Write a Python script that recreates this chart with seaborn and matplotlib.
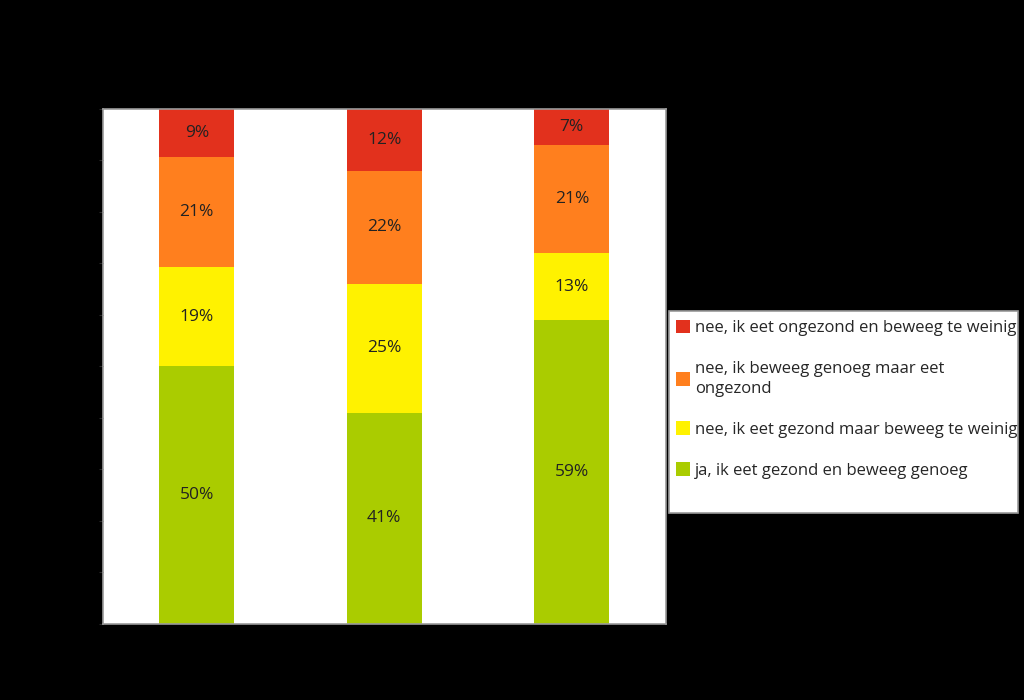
import pandas as pd
import matplotlib.pyplot as plt
import seaborn as sns
from matplotlib.patches import Patch, Rectangle

# gegevens (aandelen per groep, in %)
groepen = ["groep 1", "groep 2", "groep 3"]
antwoorden = [
    "nee, ik eet ongezond en beweeg te weinig",
    "nee, ik beweeg genoeg maar eet\nongezond",
    "nee, ik eet gezond maar beweeg te weinig",
    "ja, ik eet gezond en beweeg genoeg",
]
ongezond_weinig = [9.4, 12, 7]
beweeg_ongezond = [21.3, 22, 21]
gezond_weinig = [19.3, 25, 13]
gezond_genoeg = [50, 41, 59]
kleuren = ["#E2311D", "#FF7F1E", "#FFF200", "#AACC00"]

rows = []
for naam, waarden in zip(antwoorden, [ongezond_weinig, beweeg_ongezond, gezond_weinig, gezond_genoeg]):
    for g, v in zip(groepen, waarden):
        rows.append({"groep": g, "antwoord": naam, "pct": v})
df = pd.DataFrame(rows)

sns.set_style("white")
plt.rcParams['font.family'] = ['Open Sans', 'DejaVu Sans']

fig = plt.figure(figsize=(10.24, 7), dpi=100, facecolor="black")
ax = fig.add_axes([0.1006, 0.1086, 0.5494, 0.7357])
ax.set_facecolor("white")

sns.histplot(data=df, x="groep", hue="antwoord", weights="pct", hue_order=antwoorden,
             multiple="stack", discrete=True, shrink=0.4, palette=kleuren,
             alpha=1, linewidth=0, legend=False, ax=ax)

for cont in ax.containers:
    ax.bar_label(cont, labels=[f"{v:.0f}%" for v in cont.datavalues],
                 label_type="center", fontsize=12.5, color="#222222")

ax.set_xlim(-0.5, 2.5)
ax.set_ylim(0, 100)
ax.set_xlabel("")
ax.set_ylabel("")
ax.set_xticks(range(len(groepen)))
ax.set_xticklabels([])
ax.set_yticks(range(0, 101, 10))
ax.set_yticklabels([])
ax.tick_params(axis="y", left=True, length=3, color="#2a2a2a")
ax.tick_params(axis="x", bottom=False)
for s in ax.spines.values():
    s.set_color("#9a9a9a")
    s.set_linewidth(1.2)

# legendakader
fig.patches.append(Rectangle((669 / 1024, 1 - 513 / 700), 349 / 1024, 202 / 700,
                             transform=fig.transFigure, facecolor="white",
                             edgecolor="#9a9a9a", linewidth=1.2, zorder=0))

handles = [Patch(facecolor=c, edgecolor="none") for c in kleuren]
leg = fig.legend(handles, antwoorden, loc="upper left",
                 bbox_to_anchor=(676 / 1024, 1 - 320 / 700),
                 fontsize=12, frameon=False, labelspacing=1.48, handlelength=0.85,
                 handleheight=0.85, handletextpad=0.3, borderaxespad=0,
                 borderpad=0)
for t in leg.get_texts():
    t.set_linespacing(1.3)
leg.set_zorder(5)

fig.savefig("out.png", dpi=100, facecolor="black")
